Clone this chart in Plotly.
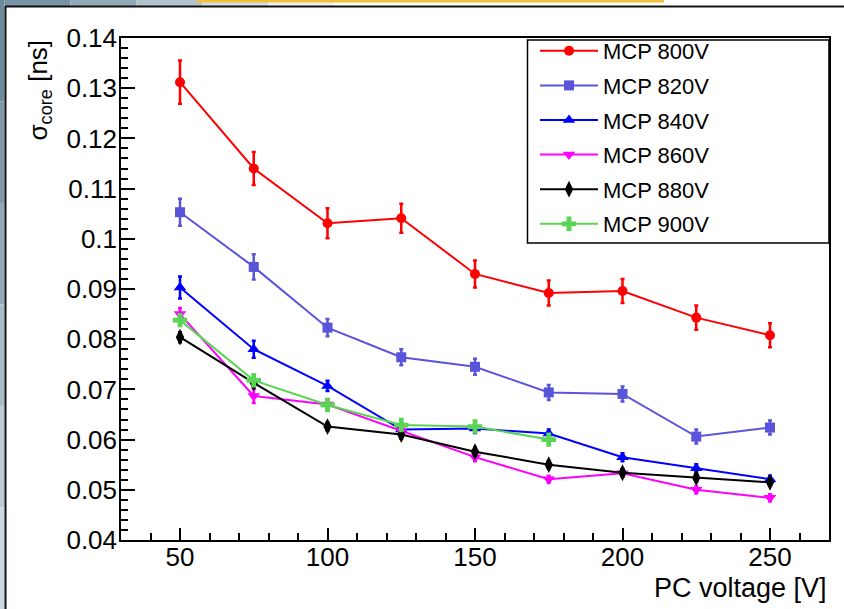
import plotly.graph_objects as go

# ---- data ----
pc_voltage = [50, 75, 100, 125, 150, 175, 200, 225, 250]

mcp800 = [0.1312, 0.1140, 0.1031, 0.1041, 0.0930, 0.0892, 0.0896, 0.0843, 0.0808]
mcp800_err = [0.0043, 0.0033, 0.0030, 0.0029, 0.0027, 0.0025, 0.0024, 0.0024, 0.0024]

mcp820 = [0.1053, 0.0944, 0.0823, 0.0764, 0.0745, 0.0694, 0.0691, 0.0606, 0.0624]
mcp820_err = [0.0027, 0.0025, 0.0017, 0.0016, 0.0016, 0.0015, 0.0015, 0.0014, 0.0014]

mcp840 = [0.0903, 0.0780, 0.0707, 0.0620, 0.0622, 0.0612, 0.0565, 0.0543, 0.0521]
mcp840_err = [0.0022, 0.0017, 0.0010, 0.0009, 0.0009, 0.0008, 0.0008, 0.0008, 0.0007]

mcp860 = [0.0850, 0.0687, 0.0670, 0.0617, 0.0565, 0.0521, 0.0533, 0.0500, 0.0484]
mcp860_err = [0.0012, 0.0014, 0.0009, 0.0008, 0.0008, 0.0007, 0.0007, 0.0007, 0.0007]

mcp880 = [0.0804, 0.0713, 0.0626, 0.0610, 0.0576, 0.0550, 0.0534, 0.0524, 0.0515]
mcp880_err = [0.0010, 0.0009, 0.0008, 0.0008, 0.0008, 0.0007, 0.0007, 0.0007, 0.0007]

pc_voltage_900 = [50, 75, 100, 125, 150, 175]
mcp900 = [0.0838, 0.0718, 0.0669, 0.0629, 0.0626, 0.0600]
mcp900_err = [0.0011, 0.0011, 0.0010, 0.0009, 0.0009, 0.0009]

series = [
    ("MCP 800V", pc_voltage, mcp800, mcp800_err, "#ff0000", "circle", 10),
    ("MCP 820V", pc_voltage, mcp820, mcp820_err, "#5954d9", "square", 10),
    ("MCP 840V", pc_voltage, mcp840, mcp840_err, "#0000ff", "triangle-up", 11),
    ("MCP 860V", pc_voltage, mcp860, mcp860_err, "#ff00ff", "triangle-down", 11),
    ("MCP 880V", pc_voltage, mcp880, mcp880_err, "#000000", "diamond-tall", 12),
    ("MCP 900V", pc_voltage_900, mcp900, mcp900_err, "#59d454", "cross", 12),
]

FONT = "Liberation Sans, Arial, Helvetica, sans-serif"

fig = go.Figure()
for name, xs, ys, es, col, sym, sz in series:
    fig.add_trace(go.Scatter(
        x=xs, y=ys, name=name, mode="lines+markers", legendgroup=name,
        line=dict(color=col, width=2),
        marker=dict(color=col, symbol=sym, size=sz, line=dict(width=0)),
        error_y=dict(type="data", array=es, visible=True, color=col,
                     thickness=2.5, width=2),
    ))

# plot-area geometry (pixels) for decorations
L, R, T, B = 121, 829, 38, 540
W, H = R - L, B - T
def px(xp):
    return (xp - L) / W
def py(yp):
    return (B - yp) / H

shapes = []
# slide background strips (left and top)
left_cols = ["#6d899b", "#7f99aa", "#93aab8", "#a8bbc7", "#bccbd4", "#ccd8df"]
n = len(left_cols)
for i, c in enumerate(left_cols):
    shapes.append(dict(type="rect", xref="paper", yref="paper",
                       x0=px(0), x1=px(4.5), y0=py(609 * (i + 1) / n), y1=py(609 * i / n),
                       fillcolor=c, line=dict(width=0), layer="above"))
top_cols = ["#7893a5", "#93aab8", "#b3c3cd", "#d3dde3", "#eef2f4"]
m = len(top_cols)
for i, c in enumerate(top_cols):
    shapes.append(dict(type="rect", xref="paper", yref="paper",
                       x0=px(4.5 + 330 * i / m), x1=px(4.5 + 330 * (i + 1) / m), y0=py(6), y1=py(0),
                       fillcolor=c, line=dict(width=0), layer="above"))
shapes.append(dict(type="rect", xref="paper", yref="paper",
                   x0=px(197), x1=px(664), y0=py(2.5), y1=py(0),
                   fillcolor="#f2c23a", line=dict(width=0), layer="above"))
# black slide borders
shapes.append(dict(type="line", xref="paper", yref="paper",
                   x0=px(5), x1=px(844), y0=py(6.5), y1=py(6.5),
                   line=dict(color="#111111", width=2), layer="above"))
shapes.append(dict(type="line", xref="paper", yref="paper",
                   x0=px(5.5), x1=px(5.5), y0=py(609), y1=py(6.5),
                   line=dict(color="#111111", width=2), layer="above"))
# legend box
shapes.append(dict(type="rect", xref="paper", yref="paper",
                   x0=px(527.5), x1=1.0, y0=py(243), y1=py(40),
                   line=dict(color="black", width=1.5), fillcolor="rgba(0,0,0,0)",
                   layer="above"))

fig.update_layout(
    width=844, height=609,
    margin=dict(l=L, r=844 - R, t=T, b=609 - B, pad=0),
    paper_bgcolor="white", plot_bgcolor="white",
    font=dict(family=FONT, color="black", size=26),
    showlegend=True,
    legend=dict(x=px(535), y=py(30), xanchor="left", yanchor="top",
                bgcolor="rgba(0,0,0,0)", borderwidth=0,
                font=dict(family=FONT, size=22, color="black"),
                tracegroupgap=3, itemsizing="trace", itemwidth=58),
    shapes=shapes,
    annotations=[
        dict(text="σ<sub>core</sub> [ns]", textangle=-90, xref="paper", yref="paper",
             x=px(39), y=py(38), xanchor="center", yanchor="top", showarrow=False,
             font=dict(family=FONT, size=26, color="black")),
        dict(text="PC voltage [V]", xref="paper", yref="paper",
             x=1.0, y=py(588), xanchor="right", yanchor="middle", showarrow=False,
             font=dict(family=FONT, size=27, color="black")),
    ],
)

fig.update_xaxes(
    range=[30, 270], tick0=50, dtick=50, ticks="inside", ticklen=12, tickwidth=1.5,
    tickcolor="black", showline=True, linecolor="black", linewidth=1.5, mirror=True,
    showgrid=False, zeroline=False, tickfont=dict(size=26), ticklabelstandoff=-7,
    minor=dict(dtick=10, tick0=0, ticks="inside", ticklen=7, tickwidth=1.5,
               tickcolor="black", showgrid=False),
)
fig.update_yaxes(
    range=[0.04, 0.14], tick0=0.04, dtick=0.01, ticks="inside", ticklen=14, tickwidth=1.5,
    tickcolor="black", showline=True, linecolor="black", linewidth=1.5, mirror=True,
    showgrid=False, zeroline=False, tickfont=dict(size=26), ticklabelstandoff=-3,
    minor=dict(dtick=0.002, ticks="inside", ticklen=7, tickwidth=1.5,
               tickcolor="black", showgrid=False),
)

fig.write_html("out.html", config={"displayModeBar": False},
               post_script="document.body.style.margin='0';document.body.style.padding='0';")
